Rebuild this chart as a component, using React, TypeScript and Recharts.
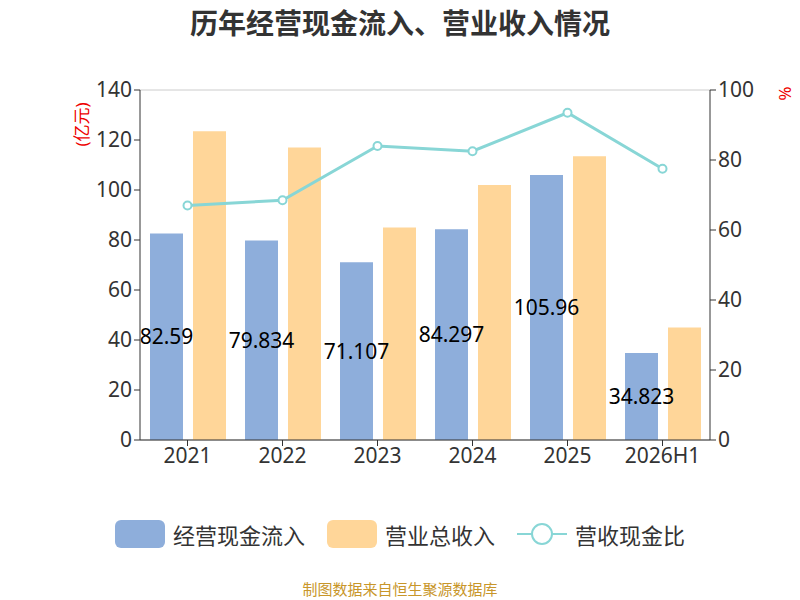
import React from "react";
import { ComposedChart, Bar, Line, XAxis, YAxis, CartesianGrid, LabelList } from "recharts";

const years = ["2021", "2022", "2023", "2024", "2025", "2026H1"];
const cashInflow = [82.59, 79.834, 71.107, 84.297, 105.96, 34.823];
const revenue = [123.5, 117, 85, 102, 113.5, 45];
const ratio = [67, 68.5, 84, 82.5, 93.5, 77.5];

const data = years.map((y, i) => ({ year: y, cash: cashInflow[i], rev: revenue[i], ratio: ratio[i] }));

const font = "'Noto Sans', 'Noto Sans CJK SC', sans-serif";

export default function App() {
  return (
    <div style={{ position: "absolute", left: 0, top: 0, width: 800, height: 600, background: "#fff", fontFamily: font }}>
      <div style={{ position: "absolute", top: 2, width: 800, textAlign: "center", fontSize: 28, fontWeight: 700, color: "#333" }}>
        历年经营现金流入、营业收入情况
      </div>
      <div style={{ position: "absolute", left: 58, top: 112, transform: "rotate(-90deg)", color: "#e00", fontSize: 17 }}>(亿元)</div>
      <div style={{ position: "absolute", left: 778, top: 82, transform: "rotate(90deg)", color: "#e00", fontSize: 17 }}>%</div>
      <ComposedChart width={800} height={600} data={data} barGap={10} barSize={33}
        margin={{ top: 90, right: 30, left: 80, bottom: 130 }} style={{ fontFamily: font }}>
        <CartesianGrid vertical={false} stroke="#ccc" />
        <XAxis dataKey="year" tick={{ fontSize: 21, fill: "#333" }} stroke="#333" height={30} tickSize={6} />
        <YAxis yAxisId="l" domain={[0, 140]} ticks={[0, 20, 40, 60, 80, 100, 120, 140]} width={60}
          tick={{ fontSize: 21, fill: "#333" }} stroke="#333" />
        <YAxis yAxisId="r" orientation="right" domain={[0, 100]} ticks={[0, 20, 40, 60, 80, 100]} width={60}
          tick={{ fontSize: 21, fill: "#333" }} stroke="#333" />
        <Bar yAxisId="l" dataKey="cash" fill="#8eaedb" isAnimationActive={false}>
          <LabelList dataKey="cash" position="center" fill="#000" fontSize={21} />
        </Bar>
        <Bar yAxisId="l" dataKey="rev" fill="#ffd699" isAnimationActive={false} />
        <Line yAxisId="r" dataKey="ratio" stroke="#88d6d6" strokeWidth={3}
          dot={{ r: 4, fill: "#fff", stroke: "#88d6d6", strokeWidth: 2 }} isAnimationActive={false} />
      </ComposedChart>
      <div style={{ position: "absolute", top: 518, left: 0, width: 800, display: "flex", justifyContent: "center", gap: 22, fontSize: 22, color: "#333", alignItems: "center" }}>
        <span style={{ display: "flex", alignItems: "center", gap: 8 }}>
          <span style={{ width: 50, height: 28, background: "#8eaedb", borderRadius: 6, display: "inline-block" }} />经营现金流入
        </span>
        <span style={{ display: "flex", alignItems: "center", gap: 8 }}>
          <span style={{ width: 50, height: 28, background: "#ffd699", borderRadius: 6, display: "inline-block" }} />营业总收入
        </span>
        <span style={{ display: "flex", alignItems: "center", gap: 8 }}>
          <svg width={50} height={28}><line x1={0} y1={14} x2={50} y2={14} stroke="#88d6d6" strokeWidth={2} />
            <circle cx={25} cy={14} r={10} fill="#fff" stroke="#88d6d6" strokeWidth={2} /></svg>营收现金比
        </span>
      </div>
      <div style={{ position: "absolute", top: 578, width: 800, textAlign: "center", fontSize: 15, color: "#c8962a" }}>
        制图数据来自恒生聚源数据库
      </div>
    </div>
  );
}
